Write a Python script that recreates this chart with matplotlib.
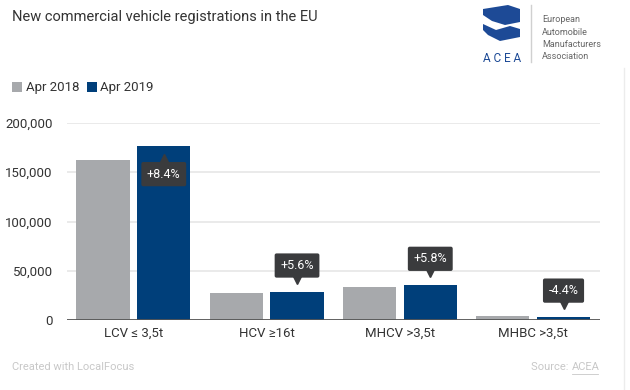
import numpy as np
import matplotlib
matplotlib.use('Agg')
import matplotlib.pyplot as plt
import matplotlib.transforms as mtransforms
from matplotlib.patches import Polygon

plt.rcParams['font.family'] = ['Roboto', 'DejaVu Sans']

categories = ['LCV \u2264 3,5t', 'HCV \u226516t', 'MHCV >3,5t', 'MHBC >3,5t']
apr_2018 = [162700, 27500, 33900, 3800]
apr_2019 = [176400, 29050, 35860, 3630]
changes = ['+8.4%', '+5.6%', '+5.8%', '-4.4%']
series = ['Apr 2018', 'Apr 2019']
yticks = [0, 50000, 100000, 150000, 200000]

grey = '#a7a9ac'
blue = '#003f7a'
dark = '#3a3b3d'

fig = plt.figure(figsize=(6.3, 3.9), dpi=100)
ax = fig.add_axes([0.106, 0.179, 0.846, 0.506])

x = np.arange(len(categories))
w = 0.40
off = 0.228
ax.bar(x - off, apr_2018, w, color=grey, zorder=2)
ax.bar(x + off, apr_2019, w, color=blue, zorder=2)

ax.set_xlim(-0.5, 3.5)
ax.set_ylim(0, 200000)
ax.set_yticks(yticks)
ax.set_yticklabels([f'{v:,}' for v in yticks])
ax.set_xticks(x)
ax.set_xticklabels(categories)
ax.tick_params(length=0, labelsize=9.5, colors='#333333')
ax.tick_params(axis='y', pad=10)
ax.tick_params(axis='x', pad=5)
ax.grid(axis='y', color='#e6e6e6', lw=1.2, zorder=0)
for s in ax.spines.values():
    s.set_visible(False)
ax.axhline(0, color='#555555', lw=2, zorder=3)

# change labels with pointer
for i, (v, lab) in enumerate(zip(apr_2019, changes)):
    xc = x[i] + off
    inside = v > 150000
    dy = -28 if inside else 26
    ax.annotate(lab, (xc, v), xytext=(0, dy), textcoords='offset pixels',
                ha='center', va='center', color='white', fontsize=9,
                bbox=dict(boxstyle='round,pad=0.45,rounding_size=0.15',
                          fc=dark, ec='none'), zorder=5)
    tri_y = -12 if inside else 12
    tr = mtransforms.offset_copy(ax.transData, fig=fig, x=0, y=tri_y, units='dots')
    ax.plot([xc], [v], marker='^' if inside else 'v', color=dark, ms=6,
            transform=tr, zorder=5, clip_on=False)


def px(pts):
    # pixel coords measured from the top-left corner
    return [[p[0], 390 - p[1]] for p in pts]


# title and legend
fig.text(12 / 630, 1 - 17 / 390, 'New commercial vehicle registrations in the EU',
         fontsize=10.5, color='#333333', va='center')
renderer = fig.canvas.get_renderer()
lx = 12
for name, col in zip(series, [grey, blue]):
    fig.patches.append(Polygon(px([[lx, 82], [lx + 10, 82], [lx + 10, 92], [lx, 92]]),
                               closed=True, transform=None, fc=col, ec='none'))
    t = fig.text((lx + 14) / 630, 1 - 87 / 390, name, fontsize=9.5, color='#333333',
                 va='center')
    lx = t.get_window_extent(renderer).x1 + 7

# ACEA logo
logo_blue = '#1d4a96'
fig.patches.append(Polygon(px([[483, 9], [508, 5], [520, 9], [520, 22], [505, 25],
                               [492, 21], [483, 15]]), closed=True, transform=None,
                           fc=logo_blue, ec='none'))
fig.patches.append(Polygon(px([[483, 24], [496, 30], [510, 26], [520, 29], [520, 37],
                               [500, 41], [488, 35], [483, 30]]), closed=True, transform=None,
                           fc=logo_blue, ec='none'))
fig.text(502 / 630, 1 - 58 / 390, 'A C E A', fontsize=8.5, color=logo_blue,
         ha='center', va='center')
fig.add_artist(plt.Line2D([531 / 630, 531 / 630], [1 - 5 / 390, 1 - 62 / 390],
                          color='#d0d0d0', lw=1))
for j, t in enumerate(['European', 'Automobile', 'Manufacturers', 'Association']):
    fig.text(542 / 630, 1 - (20 + 12.3 * j) / 390, t, fontsize=6.5, color='#666666',
             va='center')

# right border
fig.add_artist(plt.Line2D([624 / 630, 624 / 630], [0, 1 - 68 / 390],
                          color='#ececec', lw=1))

# footer
fig.text(12 / 630, 1 - 367 / 390, 'Created with LocalFocus', fontsize=8,
         color='#c8c8c8', va='center')
fig.text(571 / 630, 1 - 367 / 390, 'Source: ', fontsize=8, color='#c8c8c8',
         va='center', ha='right')
fig.text(572 / 630, 1 - 367 / 390, 'ACEA', fontsize=8, color='#c8c8c8',
         va='center', ha='left')
fig.add_artist(plt.Line2D([572 / 630, 598 / 630], [1 - 374 / 390, 1 - 374 / 390],
                          color='#c8c8c8', lw=0.6))

fig.savefig('out.png', dpi=100)
